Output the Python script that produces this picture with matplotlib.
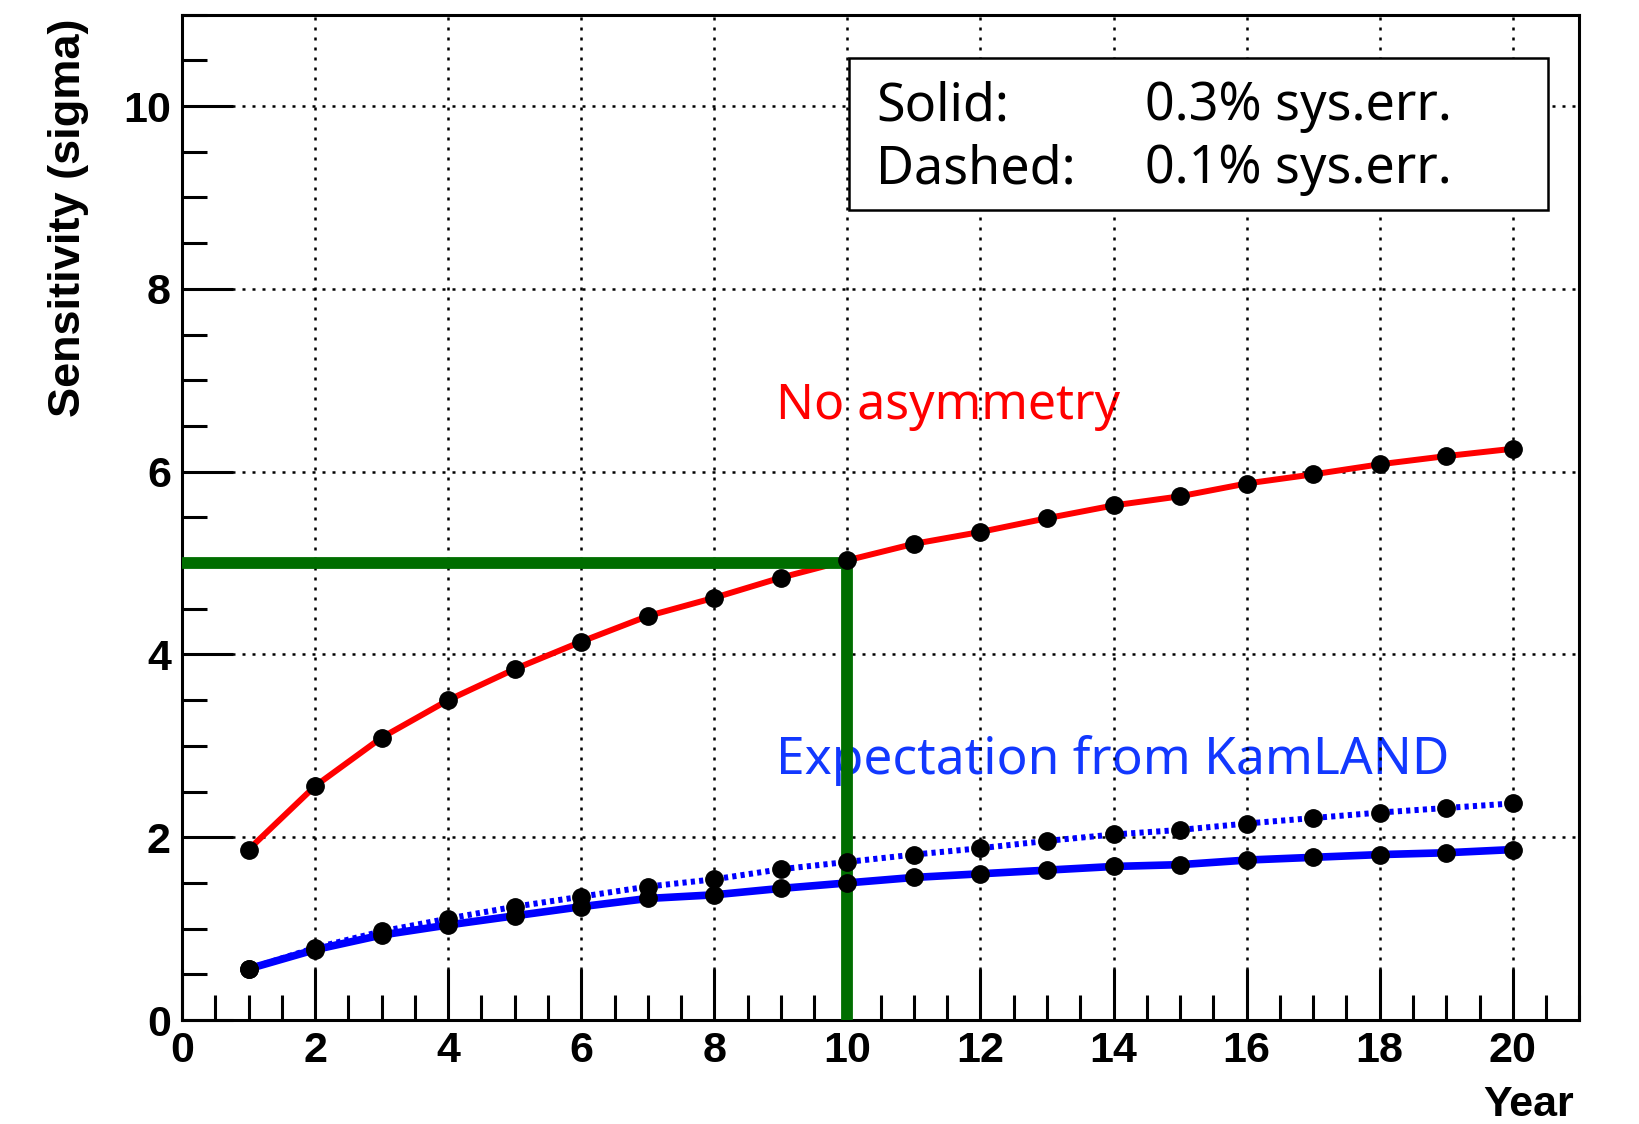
import matplotlib
matplotlib.use("Agg")
import matplotlib.pyplot as plt
from matplotlib.ticker import MultipleLocator
from matplotlib.patches import Rectangle

years = list(range(1, 21))
no_asym = [1.865, 2.56, 3.09, 3.50, 3.84, 4.14, 4.42, 4.62, 4.84, 5.03,
           5.21, 5.34, 5.49, 5.63, 5.73, 5.87, 5.97, 6.08, 6.17, 6.25]
kam_01 = [0.56, 0.79, 0.97, 1.11, 1.24, 1.35, 1.46, 1.54, 1.65, 1.73,
          1.81, 1.88, 1.96, 2.03, 2.08, 2.15, 2.21, 2.27, 2.32, 2.37]
kam_03 = [0.56, 0.77, 0.93, 1.04, 1.14, 1.24, 1.33, 1.37, 1.44, 1.50,
          1.56, 1.60, 1.64, 1.68, 1.70, 1.75, 1.78, 1.81, 1.83, 1.865]
target_sigma = 5
target_year = 10
xticks = [0, 2, 4, 6, 8, 10, 12, 14, 16, 18, 20]
yticks = [0, 2, 4, 6, 8, 10]

fig = plt.figure(figsize=(16.4, 11.24), dpi=100)
ax = fig.add_axes([0.111, 0.0925, 0.852, 0.8945])
ax.set_xlim(0, 21)
ax.set_ylim(0, 11)

# lines
ax.plot(years, no_asym, color='#ff0000', lw=4.3, zorder=3)
ax.plot(years, kam_01, color='#0000ff', lw=4.3, linestyle=(0, (0.7, 0.7)), zorder=3)
ax.plot(years, kam_03, color='#0000ff', lw=5.5, zorder=3)
for s in (no_asym, kam_01, kam_03):
    ax.plot(years, s, linestyle='none', marker='o', color='black',
            markersize=12.5, zorder=6)

# green 5-sigma markers
ax.plot([0, target_year], [target_sigma, target_sigma], color='#006e00', lw=8.5,
        zorder=5, solid_capstyle='butt')
ax.plot([target_year, target_year], [0, target_sigma], color='#006e00', lw=8.5,
        zorder=5, solid_capstyle='butt')

# axes styling
ax.set_xticks(xticks)
ax.set_yticks(yticks)
ax.xaxis.set_minor_locator(MultipleLocator(0.5))
ax.yaxis.set_minor_locator(MultipleLocator(0.5))
ax.tick_params(which='major', direction='in', length=37, width=2.2)
ax.tick_params(which='minor', direction='in', length=18, width=2.2)
ax.tick_params(axis='x', which='major', pad=8)
ax.tick_params(axis='y', which='major', pad=8)
for lab in ax.get_xticklabels() + ax.get_yticklabels():
    lab.set_fontfamily('Liberation Sans')
    lab.set_fontweight('bold')
    lab.set_fontsize(31)
for sp in ax.spines.values():
    sp.set_linewidth(2.2)
ax.set_axisbelow(False)
ax.grid(True, which='major', color='black', linestyle=(0, (1.2, 2.8)), linewidth=1.8)

ax.text(-0.0816, 0.996, 'Sensitivity (sigma)', transform=ax.transAxes,
        rotation=90, ha='center', va='top', fontfamily='Liberation Sans',
        fontweight='bold', fontsize=32.5)
ax.text(0.996, -0.085, 'Year', transform=ax.transAxes, ha='right', va='center',
        fontfamily='Liberation Sans', fontweight='bold', fontsize=31)

# annotations
ax.text(8.92, 6.58, 'No asymmetry', color='#ff0000', fontsize=36,
        fontfamily='Noto Sans', va='baseline', ha='left', zorder=1)
ax.text(8.92, 2.69, 'Expectation from KamLAND', color='#1238ff', fontsize=37,
        fontfamily='Noto Sans', va='baseline', ha='left', zorder=1)

# legend box
ax.add_patch(Rectangle((0.477, 0.806), 0.5005, 0.151, transform=ax.transAxes,
                       facecolor='white', edgecolor='black', lw=1.8, zorder=7))
ax.text(0.497, 0.895, 'Solid:', transform=ax.transAxes, fontsize=37.5,
        fontfamily='Noto Sans', va='baseline', ha='left', zorder=8)
ax.text(0.689, 0.895, '0.3% sys.err.', transform=ax.transAxes, fontsize=37.5,
        fontfamily='Noto Sans', va='baseline', ha='left', zorder=8)
ax.text(0.497, 0.8325, 'Dashed:', transform=ax.transAxes, fontsize=37.5,
        fontfamily='Noto Sans', va='baseline', ha='left', zorder=8)
ax.text(0.689, 0.8325, '0.1% sys.err.', transform=ax.transAxes, fontsize=37.5,
        fontfamily='Noto Sans', va='baseline', ha='left', zorder=8)

fig.savefig('out.png', dpi=100)
